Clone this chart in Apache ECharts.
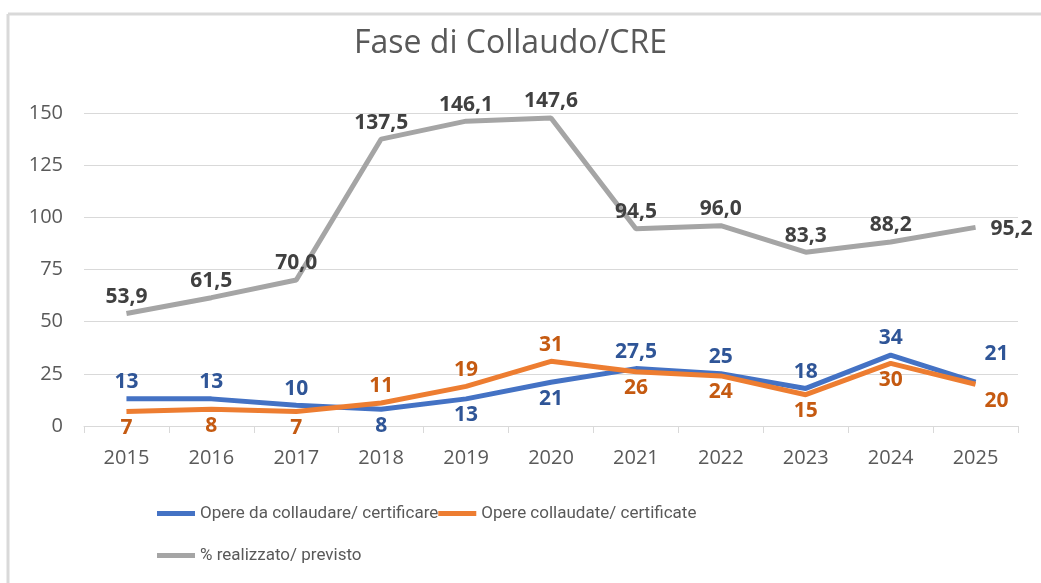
<!DOCTYPE html>
<html>
<head>
<meta charset="utf-8">
<script src="https://cdn.jsdelivr.net/npm/echarts@6/dist/echarts.min.js"></script>
<style>
  html,body{margin:0;padding:0;background:#fff;}
  #chart{width:1041px;height:583px;}
</style>
</head>
<body>
<div id="chart"></div>
<script>
// dati
var years=['2015','2016','2017','2018','2019','2020','2021','2022','2023','2024','2025'];
var daCollaudare=[13,13,10,8,13,21,27.5,25,18,34,21];
var collaudate=[7,8,7,11,19,31,26,24,15,30,20];
var percentuale=[53.9,61.5,70.0,137.5,146.1,147.6,94.5,96.0,83.3,88.2,95.2];
var yTicks=[0,25,50,75,100,125,150];

var blueBelow=['2018','2019','2020'];
var orangeAbove=['2018','2019','2020'];

var font='"Open Sans", sans-serif';
var legendFont='Roboto, sans-serif';
var grigio='#595959';

function itNum(v,dec){
    var s=dec!=null?v.toFixed(dec):String(v);
    return s.replace('.',',');
}

// pos: 'top' | 'bottom' | [dx,dy] (offset dal punto)
function pointLabels(data,color,test,dec){
    return data.map(function(v,i){
        var pos=test(years[i],i);
        var lab={
            show:true,
            color:color,
            fontFamily:font,
            fontWeight:'bold',
            fontSize:21,
            formatter:function(p){return itNum(p.value,dec);}
        };
        if(Array.isArray(pos)){
            lab.position='inside';
            lab.offset=pos;
        }else{
            lab.position=pos;
            lab.distance=6;
        }
        return {value:v,label:lab};
    });
}

var myChart=echarts.init(document.getElementById('chart'));

var lineSerie=function(name,color,z,data){
    return {
        name:name,
        type:'line',
        symbol:'circle',
        symbolSize:0.1,
        showSymbol:true,
        z:z,
        lineStyle:{width:5,color:color},
        itemStyle:{color:color},
        data:data,
    };
};

var legendBase={
    left:152,
    itemWidth:38,
    itemHeight:5,
    itemGap:0,
    icon:'rect',
    textStyle:{
        fontFamily:legendFont,
        fontSize:17,
        color:grigio,
    },
};

var option={
    backgroundColor:'#fff',
    animation:false,
    title:{
        text:'Fase di Collaudo/CRE',
        left:349,
        top:23,
        textStyle:{
            fontFamily:font,
            fontWeight:'normal',
            fontSize:32,
            color:grigio,
        },
    },
    graphic:[
        {type:'line',shape:{x1:8,y1:14,x2:1041,y2:14},style:{stroke:'#d9d9d9',lineWidth:3}},
        {type:'line',shape:{x1:8,y1:14,x2:8,y2:583},style:{stroke:'#d9d9d9',lineWidth:3}},
    ],
    legend:[
        Object.assign({},legendBase,{top:500,data:['Opere da collaudare/ certificare','Opere collaudate/ certificate']}),
        Object.assign({},legendBase,{top:542,data:['% realizzato/ previsto']}),
    ],
    grid:{
        left:84,
        right:23,
        top:113,
        bottom:157,
    },
    xAxis:{
        type:'category',
        data:years,
        boundaryGap:true,
        axisLine:{lineStyle:{color:'#d9d9d9',width:1}},
        axisTick:{show:true,length:7,lineStyle:{color:'#d9d9d9'}},
        axisLabel:{
            fontFamily:font,
            fontSize:20,
            color:grigio,
            margin:22,
        },
    },
    yAxis:{
        type:'value',
        min:0,
        max:150,
        interval:25,
        axisLine:{show:false},
        axisTick:{show:false},
        axisLabel:{
            fontFamily:font,
            fontSize:20,
            color:grigio,
            margin:21,
            formatter:function(v){return yTicks.indexOf(v)>=0?String(v):'';}
        },
        splitLine:{lineStyle:{color:'#d9d9d9',width:1}},
    },
    series:[
        lineSerie('% realizzato/ previsto','#a5a5a5',2,
            pointLabels(percentuale,'#404040',function(y){return y==='2025'?[36,2]:'top';},1)),
        lineSerie('Opere da collaudare/ certificare','#4472c4',3,
            pointLabels(daCollaudare,'#2f5597',function(y){
                if(y==='2025') return [21,-28];
                return blueBelow.indexOf(y)>=0?'bottom':'top';
            })),
        lineSerie('Opere collaudate/ certificate','#ed7d31',4,
            pointLabels(collaudate,'#c55a11',function(y){
                if(y==='2025') return [21,17];
                return orangeAbove.indexOf(y)>=0?'top':'bottom';
            })),
    ],
};

myChart.setOption(option);
</script>
</body>
</html>
